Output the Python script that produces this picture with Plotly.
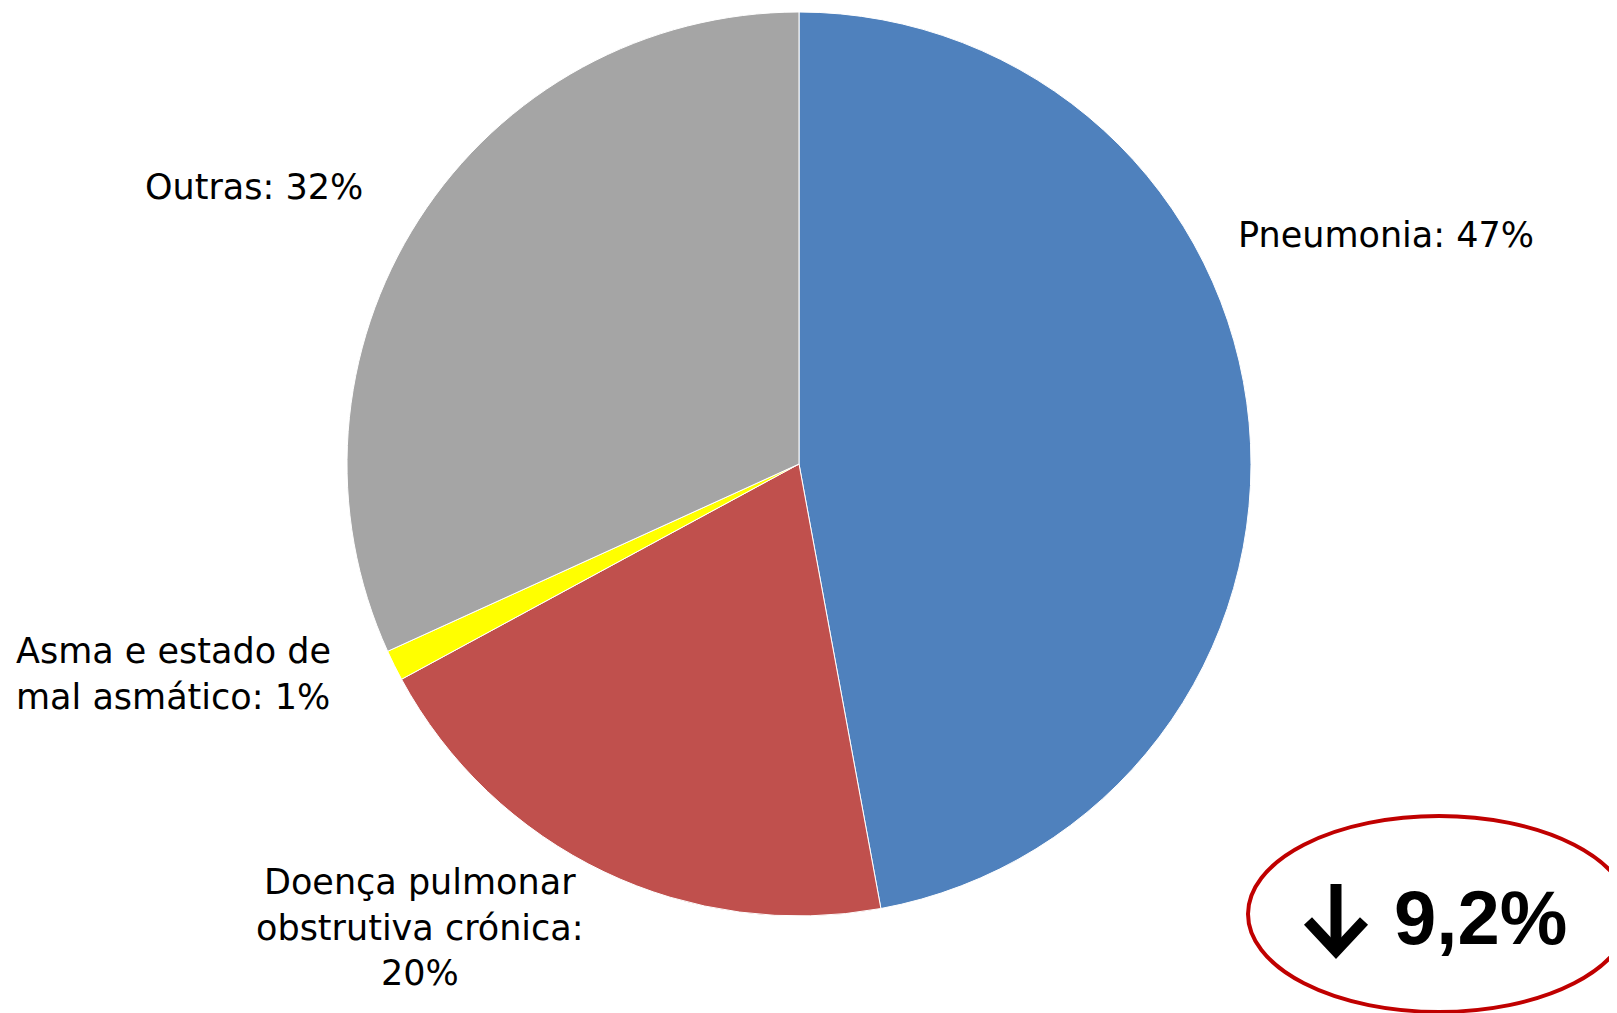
import plotly.graph_objects as go

# Data
categories = ["Pneumonia", "Doença pulmonar obstrutiva crónica", "Asma e estado de mal asmático", "Outras"]
values = [47.1, 20.0, 1.1, 31.8]
shown_pct = [47, 20, 1, 32]
colors = ["#4F81BD", "#C0504D", "#FFFF00", "#A5A5A5"]
change_value = "9,2%"

W, H = 1617, 1013


def px(x):
    return x / W


def py(y):
    return 1 - y / H


fig = go.Figure()
cx, cy, r = 791, 456, 452
fig.add_trace(go.Pie(
    labels=categories,
    values=values,
    sort=False,
    direction="clockwise",
    rotation=0,
    marker=dict(colors=colors, line=dict(color="white", width=1)),
    textinfo="none",
    hoverinfo="label+percent",
    showlegend=False,
    domain=dict(x=[px(cx - r), px(cx + r)], y=[py(cy + r), py(cy - r)]),
))

# label texts built from data
lbl = {
    0: f"{categories[0]}: {shown_pct[0]}%",
    1: "Doença pulmonar<br>obstrutiva crónica:<br>" + f"{shown_pct[1]}%",
    2: "Asma e estado de<br>mal asmático: " + f"{shown_pct[2]}%",
    3: f"{categories[3]}: {shown_pct[3]}%",
}
font = dict(family="DejaVu Sans", size=35, color="black")
annots = [
    dict(text=lbl[0], x=px(1228), y=py(227), xanchor="left", yanchor="middle", align="left"),
    dict(text=lbl[3], x=px(135), y=py(179), xanchor="left", yanchor="middle", align="left"),
    dict(text=lbl[2], x=px(6), y=py(666), xanchor="left", yanchor="middle", align="left"),
    dict(text=lbl[1], x=px(412), y=py(919), xanchor="center", yanchor="middle", align="center"),
]
for a in annots:
    fig.add_annotation(xref="paper", yref="paper", showarrow=False, font=font, **a)

# change badge
fig.add_annotation(xref="paper", yref="paper", showarrow=False,
                   text="<b>" + change_value + "</b>", x=px(1472), y=py(909),
                   xanchor="center", yanchor="middle",
                   font=dict(family="Liberation Sans", size=76, color="black"))

# down arrow drawn as a thick path
ax, atop, abot, aw, ah = 1328, 876, 943, 28, 30
fig.add_shape(type="path", xref="paper", yref="paper",
              path=f"M {px(ax)} {py(atop)} L {px(ax)} {py(abot)}",
              line=dict(color="black", width=11))
fig.add_shape(type="path", xref="paper", yref="paper",
              path=f"M {px(ax - aw)} {py(abot - ah)} L {px(ax)} {py(abot)} L {px(ax + aw)} {py(abot - ah)}",
              line=dict(color="black", width=11))

fig.add_shape(type="circle", xref="paper", yref="paper",
              x0=px(1240), x1=px(1622), y0=py(1004), y1=py(808),
              line=dict(color="#C00000", width=4), fillcolor="rgba(0,0,0,0)")

fig.update_layout(width=W, height=H, margin=dict(l=0, r=0, t=0, b=0),
                  paper_bgcolor="white", plot_bgcolor="white")
fig.write_html("out.html")
